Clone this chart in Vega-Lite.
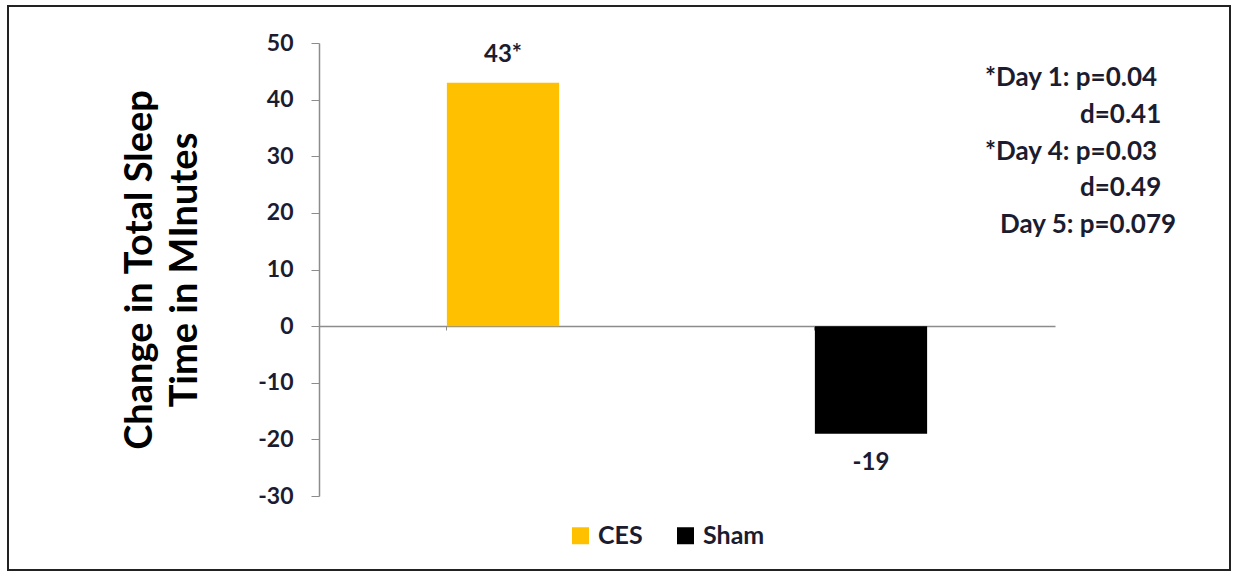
{
  "$schema": "https://vega.github.io/schema/vega-lite/v6.json",
  "autosize": "none",
  "width": 1222,
  "height": 564,
  "padding": {"left": 8, "top": 6, "right": 9, "bottom": 6},
  "background": "white",
  "view": {"stroke": "#222222", "strokeWidth": 2, "fill": "white"},
  "config": {"font": "Lato"},
  "datasets": {
    "bars": [
      {"group": "CES", "value": 43, "label": "43*"},
      {"group": "Sham", "value": -19, "label": "-19"}
    ],
    "notes": [
      {"text": "*Day 1: p=0.04", "pos": 43.8, "g": "star"},
      {"text": "d=0.41", "pos": 37.3, "g": "d"},
      {"text": "*Day 4: p=0.03", "pos": 30.8, "g": "star"},
      {"text": "d=0.49", "pos": 24.4, "g": "d"},
      {"text": "Day 5: p=0.079", "pos": 17.9, "g": "plain"}
    ]
  },
  "layer": [
    {
      "data": {"name": "bars"},
      "mark": {"type": "bar"},
      "encoding": {
        "x": {
          "field": "group", "type": "nominal", "sort": ["CES", "Sham"],
          "scale": {"range": [311, 1047], "paddingInner": 0.695, "paddingOuter": 0.3475},
          "axis": {"orient": "bottom", "offset": -244, "title": null, "labels": false,
                   "domainColor": "#8c8c8c", "domainWidth": 1.5, "tickColor": "#8c8c8c",
                   "tickSize": 4, "bandPosition": 0, "grid": false}
        },
        "y": {
          "field": "value", "type": "quantitative",
          "scale": {"domain": [-30, 50], "range": [490, 37], "nice": false, "zero": false},
          "axis": {"orient": "left", "offset": -311, "values": [-30, -20, -10, 0, 10, 20, 30, 40, 50],
                   "labelExpr": "replace(datum.label, '\u2212', '-')",
                   "grid": false, "domainColor": "#8c8c8c", "domainWidth": 1.5,
                   "tickColor": "#8c8c8c", "tickSize": 8, "labelPadding": 18,
                   "labelFont": "Lato", "labelFontSize": 23, "labelFontWeight": "bold", "labelColor": "#1c1c30",
                   "title": ["Change in Total Sleep", "Time in MInutes"],
                   "titleFont": "Lato", "titleFontSize": 38, "titleFontWeight": "bold", "titleColor": "#000000",
                   "titlePadding": 53, "titleLineHeight": 45}
        },
        "color": {
          "field": "group", "type": "nominal",
          "scale": {"domain": ["CES", "Sham"], "range": ["#FFC000", "#000000"]},
          "legend": {"orient": "none", "legendX": 560, "legendY": 517, "direction": "horizontal",
                     "title": null, "symbolType": "square", "symbolSize": 289, "symbolStrokeWidth": 0,
                     "labelFont": "Lato", "labelFontSize": 25, "labelFontWeight": "bold", "labelColor": "#1c1c30",
                     "columnPadding": 30, "labelOffset": 5, "padding": 0}
        }
      }
    },
    {
      "data": {"name": "bars"},
      "transform": [{"filter": "datum.value >= 0"}],
      "mark": {"type": "text", "baseline": "middle", "dy": -28, "fontSize": 24, "fontWeight": "bold", "color": "#1c1c30", "font": "Lato"},
      "encoding": {
        "x": {"field": "group", "type": "nominal", "sort": ["CES", "Sham"]},
        "y": {"field": "value", "type": "quantitative"},
        "text": {"field": "label", "type": "nominal"}
      }
    },
    {
      "data": {"name": "bars"},
      "transform": [{"filter": "datum.value < 0"}],
      "mark": {"type": "text", "baseline": "middle", "dy": 29, "fontSize": 24, "fontWeight": "bold", "color": "#1c1c30", "font": "Lato"},
      "encoding": {
        "x": {"field": "group", "type": "nominal", "sort": ["CES", "Sham"]},
        "y": {"field": "value", "type": "quantitative"},
        "text": {"field": "label", "type": "nominal"}
      }
    },
    {
      "data": {"name": "notes"},
      "transform": [{"filter": "datum.g == 'star'"}],
      "mark": {"type": "text", "align": "left", "baseline": "middle", "dx": 114, "fontSize": 26, "fontWeight": "bold", "color": "#1c1c30", "font": "Lato"},
      "encoding": {
        "x": {"datum": "Sham", "type": "nominal"},
        "y": {"field": "pos", "type": "quantitative"},
        "text": {"field": "text", "type": "nominal"}
      }
    },
    {
      "data": {"name": "notes"},
      "transform": [{"filter": "datum.g == 'plain'"}],
      "mark": {"type": "text", "align": "left", "baseline": "middle", "dx": 129, "fontSize": 26, "fontWeight": "bold", "color": "#1c1c30", "font": "Lato"},
      "encoding": {
        "x": {"datum": "Sham", "type": "nominal"},
        "y": {"field": "pos", "type": "quantitative"},
        "text": {"field": "text", "type": "nominal"}
      }
    },
    {
      "data": {"name": "notes"},
      "transform": [{"filter": "datum.g == 'd'"}],
      "mark": {"type": "text", "align": "left", "baseline": "middle", "dx": 209, "fontSize": 26, "fontWeight": "bold", "color": "#1c1c30", "font": "Lato"},
      "encoding": {
        "x": {"datum": "Sham", "type": "nominal"},
        "y": {"field": "pos", "type": "quantitative"},
        "text": {"field": "text", "type": "nominal"}
      }
    }
  ]
}
